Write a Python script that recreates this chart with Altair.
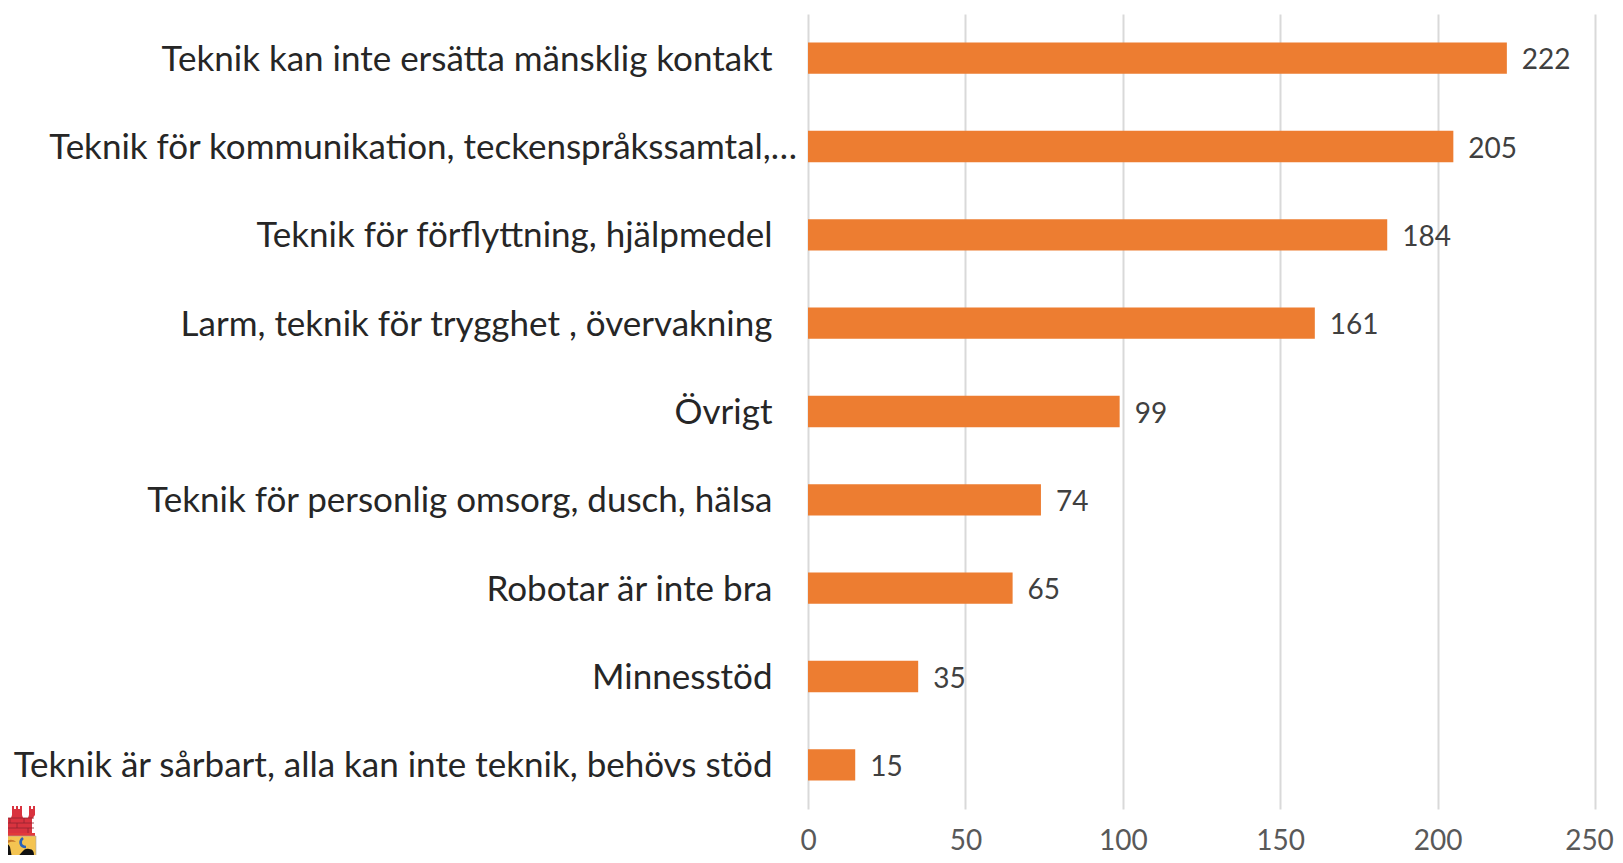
import urllib.parse
import altair as alt
import pandas as pd

categories = [
    "Teknik kan inte ersätta mänsklig kontakt",
    "Teknik för kommunikation, teckenspråkssamtal,…",
    "Teknik för förflyttning, hjälpmedel",
    "Larm, teknik för trygghet , övervakning",
    "Övrigt",
    "Teknik för personlig omsorg, dusch, hälsa",
    "Robotar är inte bra",
    "Minnesstöd",
    "Teknik är sårbart, alla kan inte teknik, behövs stöd",
]
values = [222, 205, 184, 161, 99, 74, 65, 35, 15]
x_ticks = [0, 50, 100, 150, 200, 250]
long_label = categories[1]
FONT = "Lato"

crest_svg = """<svg xmlns='http://www.w3.org/2000/svg' viewBox='0 0 38 57'>
<path fill='#d9333f' d='M0 0h2v3h3V0h1v9l-1 3h6l1-3V0h2v3h2V0h2v3h2V0h2v9l1 3h5l1-3V0h2v3h2V0h2v9l-3 4v14H0z'/>
<path fill='none' stroke='#8f2430' stroke-width='.8' d='M0 12h34M0 17h34M0 22h34M10 12v5M24 12v5M17 17v5M6 22v5M28 22v5'/>
<path fill='#e23a3a' d='M0 27h35v3H0z'/>
<path fill='#f4c452' stroke='#a9a9a9' stroke-width='.6' d='M0 30h36v27H0z'/>
<path fill='#111' d='M0 38c4-3 8-1 10 3l3 16H0zM22 46c2-3 5-4 7-3 4 0 5 3 5 6v8H16c0-4 3-8 6-11z'/>
<path fill='#c8792a' d='M4 37c4-4 9-4 12-1-4-1-8 0-10 3z'/>
<path fill='none' stroke='#2a62b8' stroke-width='2.6' d='M23 32c-4 3-3 9 3 9'/>
</svg>"""
crest_url = "data:image/svg+xml," + urllib.parse.quote(crest_svg)

df = pd.DataFrame({"category": categories, "value": values})

y = alt.Y(
    "category:N",
    sort=categories,
    title=None,
    scale=alt.Scale(paddingInner=0.645, paddingOuter=0.3225),
    axis=alt.Axis(
        labelFont=FONT, labelFontSize=35, labelColor="#262626",
        labelLimit=900, labelPadding=36, labelOffset=1.5, ticks=False, domain=False, grid=False,
        labelExpr=f"datum.value == '{long_label}' ? '' : datum.value",
    ),
)
x = alt.X(
    "value:Q",
    title=None,
    scale=alt.Scale(domain=[0, 250], nice=False),
    axis=alt.Axis(
        values=x_ticks, labelFont=FONT, labelFontSize=28, labelColor="#595959",
        labelPadding=18, ticks=False, domain=False, grid=True,
        gridColor="#d9d9d9", gridWidth=2, labelFlush=False,
        labelOffset={"condition": {"test": "datum.value == 250", "value": -6}, "value": 0},
    ),
)

bars = alt.Chart(df).mark_bar(color="#ED7D31").encode(x=x, y=y)
labels = alt.Chart(df).mark_text(
    align="left", baseline="middle", dx=15, dy=3, font=FONT, fontSize=28, color="#404040"
).encode(x="value:Q", y=alt.Y("category:N", sort=categories), text="value:Q")
long_text = alt.Chart(df).transform_filter(
    alt.datum.category == long_label
).mark_text(
    align="right", baseline="middle", dy=1.5, font=FONT, fontSize=35, color="#262626"
).encode(x=alt.value(-11), y=alt.Y("category:N", sort=categories), text="category:N")
crest = alt.Chart(df).transform_filter(
    alt.datum.category == categories[0]
).mark_image(width=38, height=57, align="left", baseline="top", url=crest_url).encode(
    x=alt.value(-808), y=alt.value(792)
)

chart = alt.layer(bars, labels, long_text, crest).properties(
    width=787, height=795,
    padding={"left": 800, "top": 6, "right": 20, "bottom": 46},
    autosize=alt.AutoSizeParams(type="none"),
    background="white",
).configure_view(stroke=None)

chart.save("out.html", embed_options={"renderer": "svg", "actions": False})
